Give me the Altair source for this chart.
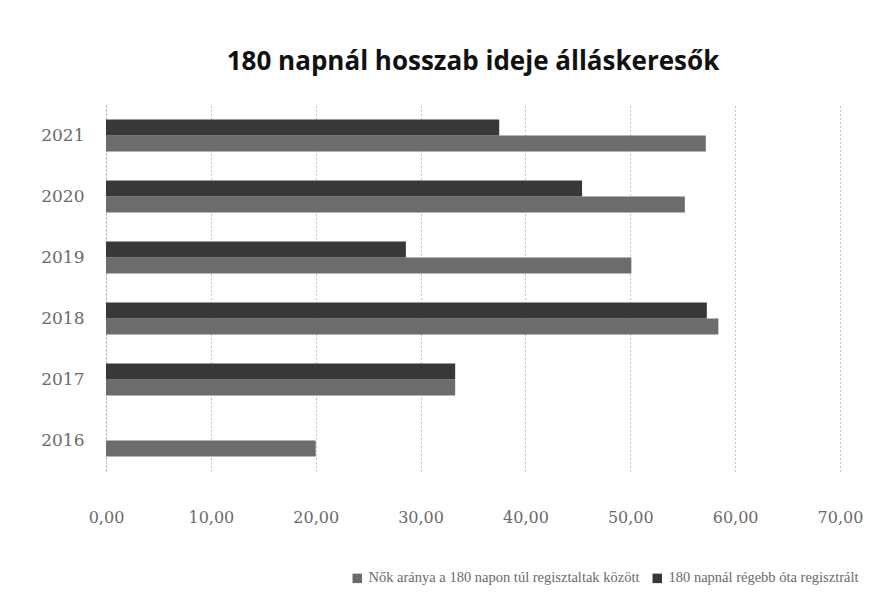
import altair as alt
import pandas as pd

years = ["2021", "2020", "2019", "2018", "2017", "2016"]
series_names = ["Nők aránya a 180 napon túl regisztaltak között", "180 napnál régebb óta regisztrált"]
# bottom bar of each pair
nok_values = [57.2, 55.2, 50.1, 58.4, 33.3, 20.0]
# top bar of each pair (no value for 2016)
regebb_values = [37.5, 45.4, 28.6, 57.3, 33.3, None]
colors = ["#6c6c6c", "#383838"]

rows = []
for y, a, b in zip(years, nok_values, regebb_values):
    rows.append({"ev": y, "sorozat": series_names[0], "ertek": a})
    if b is not None:
        rows.append({"ev": y, "sorozat": series_names[1], "ertek": b})
df = pd.DataFrame(rows)

axis_font = "DejaVu Serif"

chart = alt.Chart(df).mark_bar().encode(
    x=alt.X("ertek:Q",
            scale=alt.Scale(domain=[0, 70], nice=False, zero=True),
            axis=alt.Axis(values=[0, 10, 20, 30, 40, 50, 60, 70],
                          labelExpr="replace(format(datum.value, '.2f'), '.', ',')",
                          title=None, domain=False, ticks=False, labelFlush=False,
                          grid=True, gridColor="#8a8a8a", gridDash=[1, 3], gridWidth=1,
                          labelPadding=38, labelFont=axis_font, labelFontSize=16,
                          labelColor="#6a6a6a")),
    y=alt.Y("ev:N", sort=years,
            scale=alt.Scale(paddingInner=0.475, paddingOuter=0.2375),
            axis=alt.Axis(title=None, ticks=False, domain=True, domainColor="#8a8a8a",
                          domainDash=[1, 3], labelPadding=22, labelFont=axis_font,
                          labelFontSize=17, labelColor="#6a6a6a")),
    yOffset=alt.YOffset("sorozat:N", sort=[series_names[1], series_names[0]]),
    color=alt.Color("sorozat:N",
                    scale=alt.Scale(domain=series_names, range=colors),
                    legend=alt.Legend(title=None, orient="none", direction="horizontal",
                                      legendX=244, legendY=466, symbolType="square",
                                      symbolSize=90, symbolStrokeWidth=0,
                                      labelFont="Liberation Serif", labelFontSize=14.5,
                                      labelColor="#6a6a6a", columnPadding=10,
                                      labelLimit=400)),
).properties(
    width=734,
    height=366,
    title=alt.TitleParams("180 napnál hosszab ideje álláskeresők", font="Open Sans",
                          fontSize=26, fontWeight="bold", color="#111111", offset=30),
    autosize=alt.AutoSizeParams(type="none"),
    padding={"left": 98, "top": 97, "right": 34, "bottom": 118},
).configure_view(stroke=None)

chart.save("out.html", embed_options={"renderer": "svg", "actions": False})
